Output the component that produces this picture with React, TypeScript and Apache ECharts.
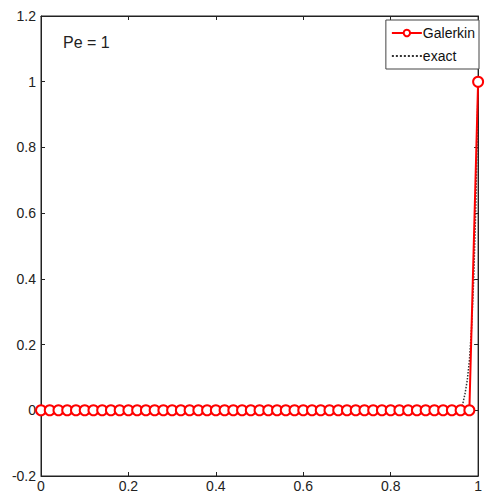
import React, { useEffect, useRef } from "react";
import * as echarts from "echarts";

// Galerkin nodal solution on a uniform mesh (h = 0.02)
const galerkinX = [
  0, 0.02, 0.04, 0.06, 0.08, 0.1, 0.12, 0.14, 0.16, 0.18,
  0.2, 0.22, 0.24, 0.26, 0.28, 0.3, 0.32, 0.34, 0.36, 0.38,
  0.4, 0.42, 0.44, 0.46, 0.48, 0.5, 0.52, 0.54, 0.56, 0.58,
  0.6, 0.62, 0.64, 0.66, 0.68, 0.7, 0.72, 0.74, 0.76, 0.78,
  0.8, 0.82, 0.84, 0.86, 0.88, 0.9, 0.92, 0.94, 0.96, 0.98, 1,
];
const galerkinU = [
  0, 0, 0, 0, 0, 0, 0, 0, 0, 0,
  0, 0, 0, 0, 0, 0, 0, 0, 0, 0,
  0, 0, 0, 0, 0, 0, 0, 0, 0, 0,
  0, 0, 0, 0, 0, 0, 0, 0, 0, 0,
  0, 0, 0, 0, 0, 0, 0, 0, 0, 0, 1,
];

// Exact solution: boundary layer near x = 1
const exactX = [0, 0.5, 0.9, 0.95, 0.96, 0.965, 0.97, 0.975, 0.98, 0.985, 0.99, 0.995, 1];
const exactU = [0, 0, 0, 0, 0.005, 0.02, 0.05, 0.09, 0.15, 0.25, 0.4, 0.63, 1];

const annotation = "Pe = 1";

export default function App() {
  const ref = useRef<HTMLDivElement>(null);

  useEffect(() => {
    if (!ref.current) return;
    const chart = echarts.init(ref.current, null, { renderer: "svg" });
    const font = "Liberation Sans, Arial, sans-serif";
    const axisCommon = {
      type: "value" as const,
      min: 0,
      max: 1,
      interval: 0.2,
      axisLine: { show: true, onZero: false, lineStyle: { color: "#222", width: 1 } },
      axisTick: { show: true, inside: true, length: 4, lineStyle: { color: "#222" } },
      splitLine: { show: false },
    };
    chart.setOption({
      animation: false,
      backgroundColor: "#fff",
      grid: {
        left: 41,
        right: 3,
        top: 16,
        bottom: 15,
        show: true,
        borderColor: "#222",
        borderWidth: 1,
        backgroundColor: "#fff",
      },
      xAxis: [
        {
          ...axisCommon,
          position: "bottom",
          axisLabel: { color: "#222", fontSize: 14, fontFamily: font, margin: 3 },
        },
        {
          ...axisCommon,
          position: "top",
          axisLabel: { show: false },
        },
      ],
      yAxis: [
        {
          ...axisCommon,
          min: -0.2,
          max: 1.2,
          position: "left",
          axisLabel: { color: "#222", fontSize: 14, fontFamily: font, margin: 5 },
        },
        {
          ...axisCommon,
          min: -0.2,
          max: 1.2,
          position: "right",
          axisLabel: { show: false },
        },
      ],
      legend: {
        right: 6,
        top: 20,
        orient: "vertical",
        backgroundColor: "#fff",
        borderColor: "#444",
        borderWidth: 1,
        borderRadius: 0,
        padding: [5, 4, 5, 5],
        itemGap: 7,
        itemWidth: 30,
        itemHeight: 8,
        textStyle: {
          color: "#111",
          fontSize: 14,
          fontFamily: font,
          lineHeight: 16,
          padding: [0, 0, 0, -4],
        },
        data: [
          { name: "Galerkin" },
          { name: "exact", itemStyle: { opacity: 0 } },
        ],
      },
      graphic: [
        {
          type: "text",
          left: 63,
          top: 34,
          style: { text: annotation, fill: "#222", font: `16px ${font}` },
        },
      ],
      series: [
        {
          name: "exact",
          type: "line",
          data: exactX.map((x, i) => [x, exactU[i]]),
          showSymbol: false,
          symbol: "none",
          lineStyle: { color: "#333", width: 1.5, type: "dotted" },
          itemStyle: { color: "#333" },
          z: 2,
        },
        {
          name: "Galerkin",
          type: "line",
          data: galerkinX.map((x, i) => [x, galerkinU[i]]),
          symbol: "circle",
          symbolSize: 10,
          showAllSymbol: true,
          clip: false,
          lineStyle: { color: "#f00", width: 2 },
          itemStyle: { color: "#fff", borderColor: "#f00", borderWidth: 2 },
          z: 3,
        },
      ],
    });
    return () => chart.dispose();
  }, []);

  return <div ref={ref} style={{ width: 485, height: 493, position: "absolute", left: 0, top: 0 }} />;
}
